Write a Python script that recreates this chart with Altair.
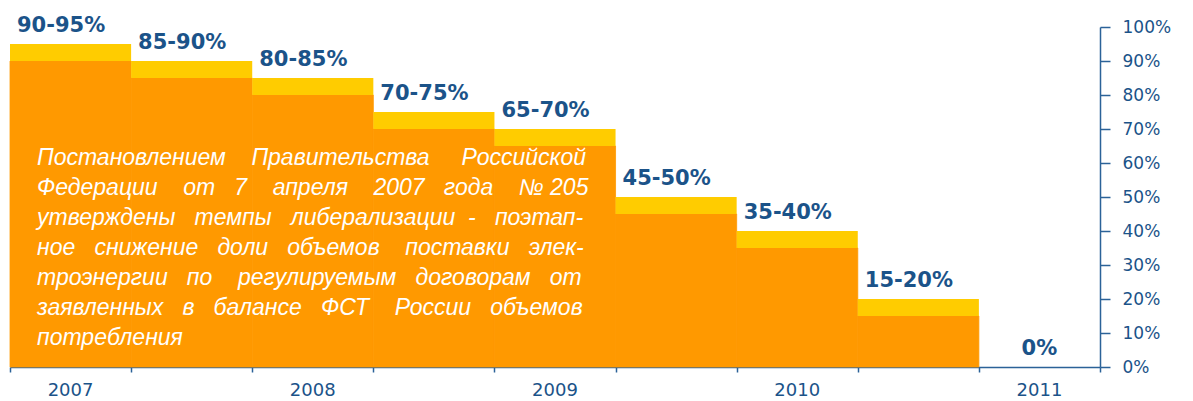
import altair as alt
import pandas as pd

# ---- data ----
range_labels = ["90-95%", "85-90%", "80-85%", "70-75%", "65-70%", "45-50%", "35-40%", "15-20%", "0%"]
low_values = [90, 85, 80, 70, 65, 45, 35, 15, 0]
high_values = [95, 90, 85, 75, 70, 50, 40, 20, 0]
years = ["2007", "2008", "2009", "2010", "2011"]
note_words = [
    ["Постановлением", "Правительства", "Российской"],
    ["Федерации", "от", "7", "апреля", "2007", "года", "№ 205"],
    ["утверждены", "темпы", "либерализации", "-", "поэтап-"],
    ["ное", "снижение", "доли", "объемов", "поставки", "элек-"],
    ["троэнергии", "по", "регулируемым", "договорам", "от"],
    ["заявленных", "в", "балансе", "ФСТ", "России", "объемов"],
    ["потребления"],
]
# spaces between words per line (to imitate the justified paragraph)
note_gaps = [
    [4, 5],
    [4, 3, 4, 4, 3, 4],
    [3, 3, 2, 3],
    [3, 3, 3, 4, 3],
    [3, 4, 3, 3],
    [3, 3, 3, 4, 3],
    [],
]
y_ticks = [0, 10, 20, 30, 40, 50, 60, 70, 80, 90, 100]

ORANGE = "#FF9900"
YELLOW = "#FFCC00"
BLUE = "#1B5389"
AXIS = "#2B6298"
NBSP = "\u00a0"

W, H = 1090, 340


def join_line(words, gaps):
    out = words[0]
    for w, g in zip(words[1:], gaps):
        out += NBSP * g + w
    return out


note_lines = [join_line(w, g) for w, g in zip(note_words, note_gaps)]

bars_df = pd.DataFrame({"i": list(range(len(range_labels))), "label": range_labels,
                        "low": low_values, "high": high_values})
years_df = pd.DataFrame({"k": list(range(len(years))), "year": years})
notes_df = pd.DataFrame({"n": list(range(len(note_lines))), "line": note_lines})

x_scale = alt.Scale(domain=[0, len(range_labels)], nice=False, zero=False)
y_scale = alt.Scale(domain=[0, 100], nice=False)

x_axis = alt.Axis(values=list(range(len(range_labels) + 1)), labels=False, title=None,
                  grid=False, tickSize=5, tickColor=AXIS, domainColor=AXIS,
                  domainWidth=1.5, tickWidth=1.5)
y_axis = alt.Axis(orient="right", values=y_ticks, title=None, grid=False,
                  tickSize=10, tickColor=AXIS, domainColor=AXIS, domainWidth=1.5,
                  tickWidth=1.5, labelExpr="datum.value + '%'", labelPadding=12,
                  labelOverlap=False, labelBound=False,
                  labelFont="DejaVu Sans", labelFontSize=17, labelColor=BLUE)

base = alt.Chart(bars_df).transform_calculate(
    i2="datum.i + 1", mid="datum.i + 0.5", zero="0"
)

orange = base.transform_filter("datum.low > 0").mark_rect(
    color=ORANGE, stroke=ORANGE, strokeWidth=0.8
).encode(
    x=alt.X("i:Q", scale=x_scale, axis=x_axis),
    x2="i2:Q",
    y=alt.Y("zero:Q", scale=y_scale, axis=y_axis),
    y2="low:Q",
)

yellow = base.mark_rect(color=YELLOW).encode(
    x=alt.X("i:Q", scale=x_scale, axis=x_axis),
    x2="i2:Q",
    y=alt.Y("low:Q", scale=y_scale, axis=y_axis),
    y2="high:Q",
)

range_text = base.transform_filter("datum.high > 0").mark_text(
    align="left", baseline="alphabetic", dx=7, dy=-12,
    font="DejaVu Sans", fontWeight="bold", fontSize=21, color=BLUE
).encode(
    x=alt.X("i:Q", scale=x_scale, axis=x_axis),
    y=alt.Y("high:Q", scale=y_scale, axis=y_axis),
    text="label:N",
)

zero_text = base.transform_filter("datum.high == 0").mark_text(
    align="center", baseline="alphabetic", dy=-12,
    font="DejaVu Sans", fontWeight="bold", fontSize=21, color=BLUE
).encode(
    x=alt.X("mid:Q", scale=x_scale, axis=x_axis),
    y=alt.Y("high:Q", scale=y_scale, axis=y_axis),
    text="label:N",
)

year_text = alt.Chart(years_df).transform_calculate(
    pos="datum.k * 2 + 0.5"
).mark_text(
    align="center", baseline="middle", font="DejaVu Sans", fontSize=18, color=BLUE
).encode(
    x=alt.X("pos:Q", scale=x_scale, axis=x_axis),
    y=alt.value(H + 24),
    text="year:N",
)

note_text = alt.Chart(notes_df).transform_calculate(
    py="138 + datum.n * 30"
).mark_text(
    align="left", baseline="alphabetic", font="Liberation Sans", fontStyle="italic",
    fontSize=23, color="white"
).encode(x=alt.value(27), y=alt.Y("py:Q", scale=None), text="line:N")

chart = alt.layer(orange, yellow, range_text, zero_text, year_text, note_text).properties(
    width=W, height=H,
    autosize=alt.AutoSizeParams(type="none"),
    padding={"left": 10, "top": 27, "right": 93, "bottom": 34},
    background="white",
).configure_view(stroke=None).configure_axis(labelOverlap=False)

chart.save("out.html", embed_options={"renderer": "svg", "actions": False})
